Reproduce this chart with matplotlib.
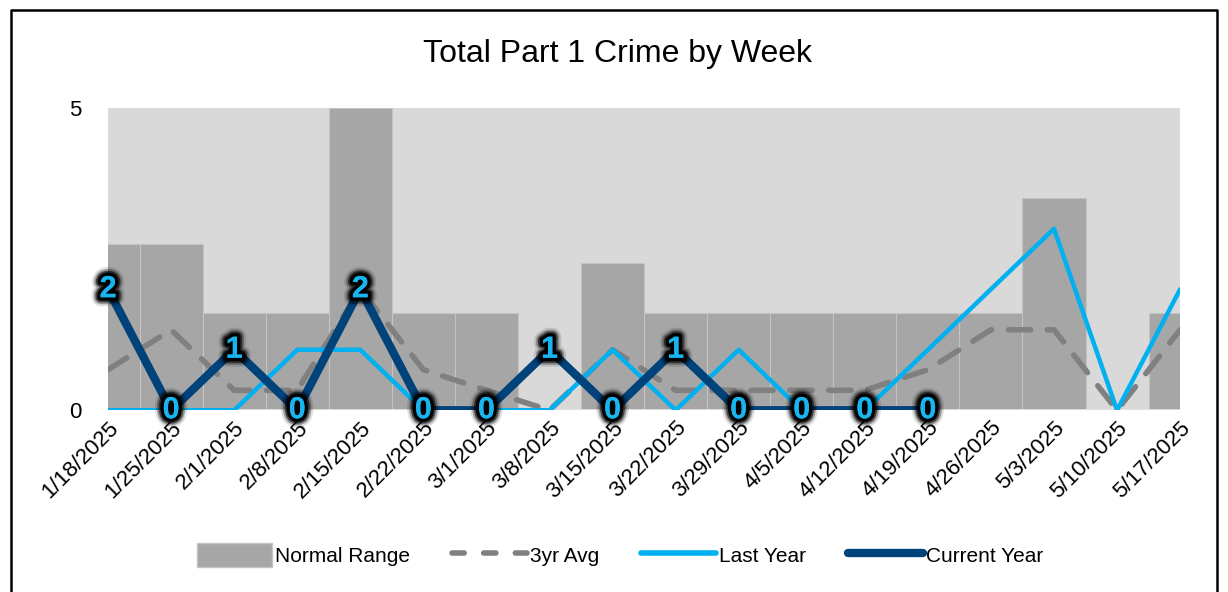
import matplotlib
matplotlib.use('Agg')
import matplotlib.pyplot as plt
import matplotlib.patheffects as pe
from matplotlib.lines import Line2D
from matplotlib.patches import Patch

weeks = ['1/18/2025', '1/25/2025', '2/1/2025', '2/8/2025', '2/15/2025', '2/22/2025',
         '3/1/2025', '3/8/2025', '3/15/2025', '3/22/2025', '3/29/2025', '4/5/2025',
         '4/12/2025', '4/19/2025', '4/26/2025', '5/3/2025', '5/10/2025', '5/17/2025']
normal_range = [2.75, 2.75, 1.6, 1.6, 5.0, 1.6, 1.6, 0, 2.43, 1.6, 1.6, 1.6,
                1.6, 1.6, 1.6, 3.5, 0, 1.6]
avg_3yr = [0.67, 1.33, 0.33, 0.33, 2.0, 0.67, 0.33, 0, 1.0, 0.33, 0.33, 0.33,
           0.33, 0.67, 1.33, 1.33, 0, 1.33]
last_year = [0, 0, 0, 1, 1, 0, 0, 0, 1, 0, 1, 0, 0, 1, 2, 3, 0, 2]
current_year = [2, 0, 1, 0, 2, 0, 0, 1, 0, 1, 0, 0, 0, 0]

plt.rcParams['font.family'] = ['Liberation Sans', 'DejaVu Sans']

fig = plt.figure(figsize=(12.28, 5.92), dpi=100)
ax = fig.add_axes([0.088, 0.307, 0.873, 0.511])
ax.set_facecolor('#D9D9D9')

x = list(range(len(weeks)))
ax.bar(x, normal_range, width=1.0, color='#A6A6A6', edgecolor='#C4C4C4',
       linewidth=0.8, zorder=1)
ax.axhline(0, color='#E4E4E4', linewidth=1.2, zorder=1.5)
ax.plot(x, avg_3yr, color='#808080', linewidth=4, dashes=(4, 3),
        dash_capstyle='round', solid_joinstyle='round', zorder=2)
ax.plot(x, last_year, color='#00B0F0', linewidth=3.2, solid_joinstyle='round',
        solid_capstyle='round', zorder=3)
xc = x[:len(current_year)]
ax.plot(xc, current_year, color='#00427A', linewidth=6, solid_joinstyle='round',
        zorder=4)

# soft black glow behind the data labels
glow = [pe.withStroke(linewidth=w, foreground='black', alpha=a)
        for w, a in [(13, 0.12), (10, 0.3), (7.5, 0.55), (5, 0.95)]]
for xi, v in zip(xc, current_year):
    ax.text(xi, v, str(v), ha='center', va='center', fontsize=22, fontweight='bold',
            color='#19B5F0', zorder=6, path_effects=glow + [pe.Normal()])

ax.set_xlim(0, len(weeks) - 1)
ax.set_ylim(0, 5)
ax.set_yticks([0, 5])
ax.set_xticks(x)
ax.set_xticklabels(weeks, rotation=45, ha='right', va='top', rotation_mode='anchor')
ax.tick_params(axis='both', length=0, labelsize=16)
ax.tick_params(axis='y', pad=19)
ax.tick_params(axis='x', pad=5)
for s in ax.spines.values():
    s.set_visible(False)

fig.text(0.503, 0.909, 'Total Part 1 Crime by Week', ha='center', va='center',
         fontsize=23)

handles = [Patch(facecolor='#A6A6A6', edgecolor='#C4C4C4'),
           Line2D([], [], color='#808080', linewidth=4, dashes=(2.2, 3.5), dash_capstyle='round'),
           Line2D([], [], color='#00B0F0', linewidth=4, solid_capstyle='round'),
           Line2D([], [], color='#00427A', linewidth=6, solid_capstyle='round')]
labels = ['Normal Range', '3yr Avg', 'Last Year', 'Current Year']
fig.legend(handles, labels, loc='center', bbox_to_anchor=(0.505, 0.062), ncol=4,
           frameon=False, fontsize=15, handlelength=3.6, handleheight=1.4,
           handletextpad=0.15, columnspacing=2.0)

# outer frame (bottom edge lies outside the image)
fig.add_artist(Line2D([0.009, 0.009, 0.991, 0.991], [0.0, 0.983, 0.983, 0.0],
                      color='black', linewidth=1.8, transform=fig.transFigure))

fig.savefig('out.png', dpi=100)
